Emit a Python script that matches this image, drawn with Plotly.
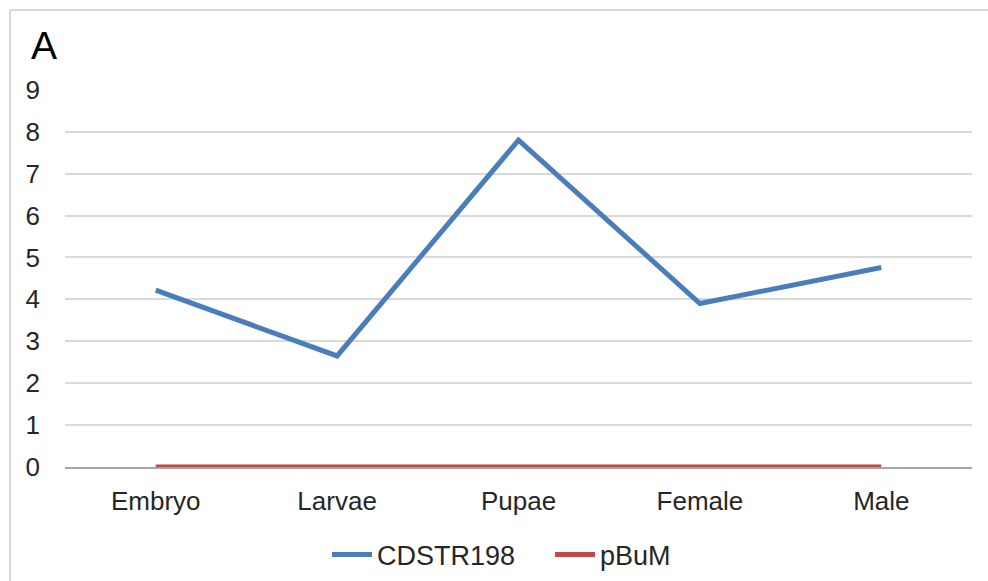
import plotly.graph_objects as go

# Developmental stages and expression levels
stages = ["Embryo", "Larvae", "Pupae", "Female", "Male"]
cdstr198 = [4.22, 2.65, 7.8, 3.9, 4.76]
pbum = [0, 0, 0, 0, 0]
y_ticks = [0, 1, 2, 3, 4, 5, 6, 7, 8, 9]

W, H = 988, 581
font_family = "Liberation Sans, Arial, sans-serif"
PL, PR, PT, PB = 65, 972, 89, 467  # plot area edges in pixels

fig = go.Figure()
fig.add_trace(go.Scatter(
    x=stages, y=cdstr198, mode="lines", name="CDSTR198",
    line=dict(color="#4A7EBB", width=5),
))
fig.add_trace(go.Scatter(
    x=stages, y=pbum, mode="lines", name="pBuM",
    line=dict(color="#BE4B48", width=5),
))

fig.update_layout(
    width=W, height=H,
    paper_bgcolor="white", plot_bgcolor="white",
    margin=dict(l=PL, r=W - PR, t=PT, b=H - PB, autoexpand=False),
    font=dict(family=font_family, size=26, color="#262626"),
    xaxis=dict(
        type="category", showgrid=False, zeroline=False,
        showline=True, linecolor="#a6a6a6", linewidth=1.5,
        ticks="", ticklabelstandoff=10,
        tickfont=dict(size=26, color="#262626"),
        range=[-0.5, 4.5],
    ),
    yaxis=dict(
        range=[0, 9.02], tickvals=y_ticks, showgrid=True,
        gridcolor="#d9d9d9", gridwidth=1.5, zeroline=False,
        showline=False, ticks="", ticklabelstandoff=24,
        tickfont=dict(size=26, color="#262626"),
    ),
    legend=dict(
        orientation="h", x=(327 - PL) / (PR - PL), xanchor="left",
        y=(PB - 555) / (PB - PT), yanchor="middle",
        font=dict(size=27, color="#262626"), itemwidth=40,
        entrywidth=168, entrywidthmode="pixels",
        bgcolor="rgba(0,0,0,0)",
    ),
    showlegend=True,
)

# Panel letter
fig.add_annotation(
    text="A", xref="paper", yref="paper",
    x=(29 - PL) / (PR - PL), y=(PB - 69) / (PB - PT),
    xanchor="left", yanchor="bottom", showarrow=False,
    font=dict(size=39, color="#000000", family=font_family),
)

# Chart frame (top and left edges)
fx0 = (10 - PL) / (PR - PL)
fx1 = (990 - PL) / (PR - PL)
fy0 = (PB - 10) / (PB - PT)
fy1 = (PB - 590) / (PB - PT)
fig.add_shape(type="line", xref="paper", yref="paper",
              x0=fx0, x1=fx1, y0=fy0, y1=fy0,
              line=dict(color="#d9d9d9", width=2))
fig.add_shape(type="line", xref="paper", yref="paper",
              x0=fx0, x1=fx0, y0=fy0, y1=fy1,
              line=dict(color="#d9d9d9", width=2))

fig.write_html("out.html")
